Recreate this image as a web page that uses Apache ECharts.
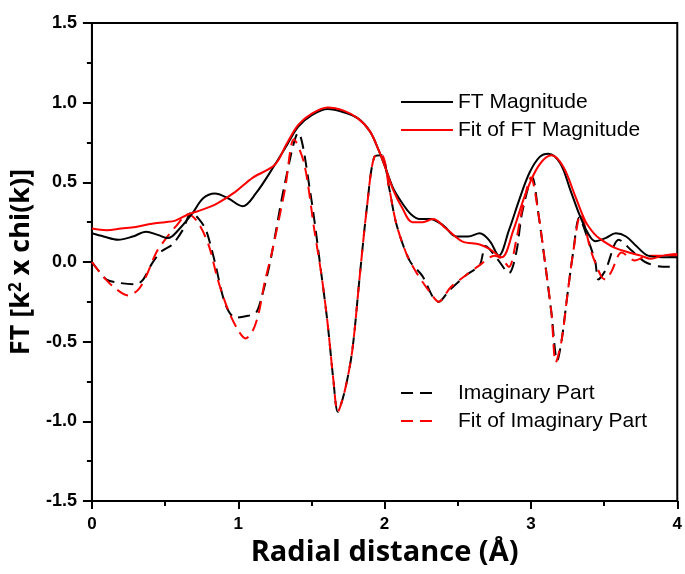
<!DOCTYPE html>
<html>
<head>
<meta charset="utf-8">
<script src="https://cdn.jsdelivr.net/npm/echarts@6/dist/echarts.min.js"></script>
<style>html,body{margin:0;padding:0;background:#fff}#c{width:685px;height:574px}</style>
</head>
<body>
<div id="c"></div>
<script>
// FT Magnitude (black solid)
var ftX = [0, 0.08, 0.18, 0.28, 0.37, 0.45, 0.52, 0.6, 0.69, 0.76, 0.84, 0.93, 1.03, 1.12, 1.25, 1.33, 1.41, 1.5, 1.61, 1.72, 1.82, 1.9, 1.96, 2.01, 2.06, 2.12, 2.18, 2.24, 2.31, 2.4, 2.49, 2.57, 2.65, 2.72, 2.78, 2.85, 2.92, 2.99, 3.06, 3.12, 3.2, 3.27, 3.33, 3.39, 3.44, 3.51, 3.58, 3.65, 3.72, 3.8, 3.9, 4.0];
var ftY = [0.18, 0.16, 0.14, 0.16, 0.19, 0.17, 0.15, 0.21, 0.31, 0.40, 0.43, 0.40, 0.35, 0.43, 0.61, 0.73, 0.85, 0.92, 0.96, 0.94, 0.90, 0.82, 0.70, 0.58, 0.46, 0.37, 0.30, 0.27, 0.27, 0.23, 0.16, 0.16, 0.18, 0.13, 0.04, 0.20, 0.39, 0.56, 0.66, 0.68, 0.62, 0.45, 0.30, 0.18, 0.13, 0.15, 0.18, 0.16, 0.10, 0.04, 0.03, 0.03];
// Fit of FT Magnitude (red solid)
var fitX = [0, 0.1, 0.2, 0.3, 0.41, 0.5, 0.57, 0.66, 0.76, 0.86, 0.98, 1.1, 1.25, 1.33, 1.41, 1.5, 1.61, 1.72, 1.82, 1.9, 1.96, 2.01, 2.06, 2.12, 2.19, 2.26, 2.33, 2.42, 2.53, 2.65, 2.72, 2.8, 2.88, 2.96, 3.05, 3.14, 3.22, 3.3, 3.37, 3.43, 3.48, 3.57, 3.67, 3.75, 3.82, 3.9, 4.0];
var fitY = [0.21, 0.20, 0.21, 0.22, 0.24, 0.25, 0.26, 0.30, 0.33, 0.37, 0.44, 0.53, 0.61, 0.74, 0.86, 0.93, 0.97, 0.95, 0.90, 0.82, 0.70, 0.58, 0.45, 0.34, 0.25, 0.25, 0.27, 0.21, 0.13, 0.11, 0.08, 0.03, 0.20, 0.42, 0.60, 0.67, 0.60, 0.42, 0.26, 0.18, 0.14, 0.09, 0.06, 0.04, 0.02, 0.04, 0.05];
// Imaginary Part (black dashed)
var imX = [0, 0.05, 0.1, 0.18, 0.3, 0.35, 0.41, 0.48, 0.55, 0.62, 0.68, 0.73, 0.78, 0.84, 0.91, 0.98, 1.05, 1.12, 1.16, 1.22, 1.32, 1.41, 1.49, 1.57, 1.61, 1.65, 1.68, 1.73, 1.78, 1.83, 1.88, 1.93, 1.98, 2.03, 2.08, 2.17, 2.26, 2.33, 2.37, 2.44, 2.56, 2.65, 2.69, 2.77, 2.85, 2.9, 2.94, 3.01, 3.05, 3.1, 3.14, 3.18, 3.21, 3.25, 3.29, 3.33, 3.39, 3.44, 3.46, 3.51, 3.6, 3.69, 3.78, 3.9, 4.0];
var imY = [0, -0.06, -0.11, -0.13, -0.14, -0.11, -0.01, 0.07, 0.11, 0.20, 0.31, 0.27, 0.20, 0.0, -0.26, -0.35, -0.34, -0.32, -0.22, 0.01, 0.50, 0.81, 0.45, -0.09, -0.38, -0.74, -0.94, -0.80, -0.55, -0.09, 0.35, 0.66, 0.67, 0.47, 0.24, 0.01, -0.09, -0.22, -0.25, -0.18, -0.08, -0.02, 0.10, 0.02, -0.07, 0.06, 0.31, 0.53, 0.31, -0.03, -0.32, -0.62, -0.49, -0.20, 0.07, 0.28, 0.14, 0.0, -0.11, -0.05, 0.14, 0.07, 0.0, -0.03, -0.03];
// Fit of Imaginary Part (red dashed)
var fiX = [0, 0.05, 0.14, 0.25, 0.32, 0.37, 0.44, 0.5, 0.57, 0.66, 0.73, 0.8, 0.86, 0.93, 1.0, 1.05, 1.1, 1.14, 1.18, 1.23, 1.32, 1.38, 1.45, 1.52, 1.57, 1.61, 1.65, 1.68, 1.73, 1.78, 1.83, 1.88, 1.93, 1.98, 2.03, 2.08, 2.15, 2.22, 2.31, 2.37, 2.45, 2.56, 2.65, 2.75, 2.8, 2.85, 2.9, 2.94, 3.0, 3.05, 3.1, 3.14, 3.17, 3.21, 3.25, 3.29, 3.34, 3.41, 3.48, 3.51, 3.55, 3.62, 3.71, 3.8, 3.9, 4.0];
var fiY = [0, -0.06, -0.15, -0.21, -0.17, -0.09, 0.06, 0.14, 0.22, 0.30, 0.24, 0.10, -0.11, -0.30, -0.43, -0.48, -0.43, -0.32, -0.13, 0.06, 0.46, 0.77, 0.62, 0.20, -0.09, -0.38, -0.74, -0.94, -0.80, -0.55, -0.09, 0.35, 0.66, 0.67, 0.47, 0.24, 0.05, -0.07, -0.19, -0.25, -0.16, -0.08, -0.02, 0.04, 0.02, -0.03, 0.14, 0.33, 0.53, 0.31, -0.03, -0.32, -0.63, -0.49, -0.20, 0.07, 0.30, 0.07, -0.09, -0.11, -0.06, 0.06, 0.01, 0.04, 0.04, 0.04];

var names = ['FT Magnitude', 'Fit of FT Magnitude', 'Imaginary Part', 'Fit of Imaginary Part'];
var xTicks = [0, 1, 2, 3, 4];
var yTicks = [-1.5, -1.0, -0.5, 0.0, 0.5, 1.0, 1.5];

function pairs(xs, ys) { return xs.map(function (x, i) { return [x, ys[i]]; }); }

var chart = echarts.init(document.getElementById('c'), null, {renderer: 'canvas'});
var dash = [12, 7];
var legendText = {fontFamily: 'Liberation Sans', fontSize: 21, color: '#000', lineHeight: 22};
chart.setOption({
  animation: false,
  backgroundColor: '#fff',
  grid: {left: 91, right: 6, top: 23, bottom: 73, show: true, borderColor: '#000', borderWidth: 2, backgroundColor: 'transparent'},
  xAxis: {
    type: 'value', min: xTicks[0], max: xTicks[xTicks.length - 1], interval: 1,
    name: 'Radial distance (Å)', nameLocation: 'middle', nameGap: 37,
    nameTextStyle: {fontFamily: 'Open Sans', fontWeight: 'bold', fontSize: 29, color: '#000'},
    axisLine: {show: true, onZero: false, lineStyle: {color: '#000', width: 2}},
    axisTick: {show: true, inside: false, length: 8, lineStyle: {color: '#000', width: 2}},
    minorTick: {show: true, splitNumber: 2, length: 5, lineStyle: {color: '#000', width: 2}},
    axisLabel: {fontFamily: 'Liberation Sans', fontWeight: 'bold', fontSize: 17, color: '#000', margin: 15},
    splitLine: {show: false}
  },
  yAxis: {
    type: 'value', min: yTicks[0], max: yTicks[yTicks.length - 1], interval: 0.5,
    name: 'FT [k{sup|2} x chi(k)]', nameLocation: 'middle', nameGap: 48,
    nameTextStyle: {fontFamily: 'Open Sans', fontWeight: 'bold', fontSize: 27, color: '#000',
      rich: {sup: {fontFamily: 'Open Sans', fontWeight: 'bold', fontSize: 17, color: '#000', verticalAlign: 'top', padding: [0, 0, 10, 0]}}},
    axisLine: {show: true, onZero: false, lineStyle: {color: '#000', width: 2}},
    axisTick: {show: true, inside: false, length: 9, lineStyle: {color: '#000', width: 2}},
    minorTick: {show: true, splitNumber: 2, length: 5, lineStyle: {color: '#000', width: 2}},
    axisLabel: {fontFamily: 'Liberation Sans', fontWeight: 'bold', fontSize: 18, color: '#000', margin: 15,
      formatter: function (v) { return v.toFixed(1); }},
    splitLine: {show: false}
  },
  legend: [
    {data: [names[0], names[1]], orient: 'vertical', left: 400, top: 91, padding: 0, itemWidth: 52, itemHeight: 14, itemGap: 6,
     itemStyle: {opacity: 0}, textStyle: legendText},
    {data: [names[2], names[3]], orient: 'vertical', left: 400, top: 382, padding: 0, itemWidth: 31, itemHeight: 14, itemGap: 6,
     itemStyle: {opacity: 0},
     formatter: function (n) { return '{g|}' + n; },
     textStyle: Object.assign({rich: {g: {width: 21}}}, legendText)}
  ],
  series: [
    {name: names[0], type: 'line', data: pairs(ftX, ftY), symbol: 'none', smooth: 0.35,
     lineStyle: {color: '#000', width: 2}, itemStyle: {color: '#000'}, z: 3},
    {name: names[1], type: 'line', data: pairs(fitX, fitY), symbol: 'none', smooth: 0.35,
     lineStyle: {color: '#ff0000', width: 2}, itemStyle: {color: '#ff0000'}, z: 4},
    {name: names[2], type: 'line', data: pairs(imX, imY), symbol: 'none', smooth: 0.3,
     lineStyle: {color: '#000', width: 2, type: dash}, itemStyle: {color: '#000'}, z: 2},
    {name: names[3], type: 'line', data: pairs(fiX, fiY), symbol: 'none', smooth: 0.3,
     lineStyle: {color: '#ff0000', width: 2, type: dash}, itemStyle: {color: '#ff0000'}, z: 2}
  ]
});
</script>
</body>
</html>
